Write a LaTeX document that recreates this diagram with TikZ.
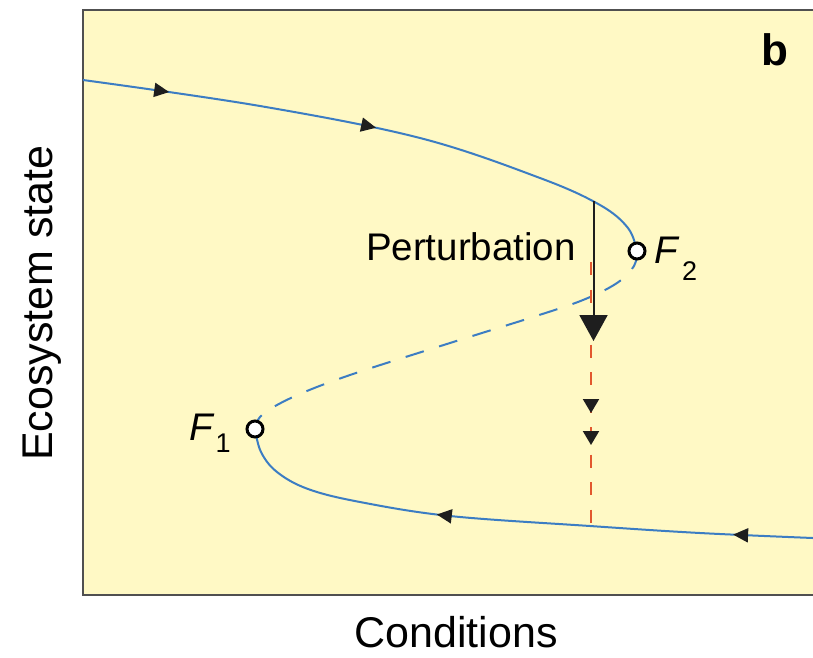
\documentclass[tikz,border=0pt]{standalone}
\usepackage{fontspec}
\setmainfont{Liberation Sans}
\usetikzlibrary{arrows.meta,decorations.markings}
\definecolor{bgyellow}{RGB}{255,249,197}
\definecolor{curveblue}{RGB}{60,125,195}
\definecolor{pertred}{RGB}{226,88,46}
\definecolor{framegray}{RGB}{80,80,80}
\definecolor{tipblack}{RGB}{30,30,30}
\begin{document}
\begin{tikzpicture}[x=1pt,y=-1pt,
  curve/.style={curveblue, line width=2pt},
  axislabel/.style={font=\fontsize{43}{50}\selectfont, inner sep=0pt},
  textlabel/.style={font=\fontsize{38.5}{46}\selectfont, inner sep=0pt},
  fixpoint/.style={circle, draw=black, line width=3pt, fill=white, inner sep=0pt, minimum size=16pt},
]
\useasboundingbox (0,0) rectangle (813,657);
% panel background and frame
\begin{scope}
  \clip (0,0) rectangle (813,657);
  \draw[framegray, line width=2pt, fill=bgyellow] (83,10) rectangle (840,595);
\end{scope}

\coordinate (pF2) at (637,251);
\coordinate (pF1) at (255,429);
\coordinate (pertstart) at (593.5,201);
\coordinate (pertend) at (593.5,341);
\coordinate (redtop) at (591,262);
\coordinate (redbot) at (591,526);

% upper stable branch
\draw[curve, postaction={decorate}, decoration={markings,
    mark=at position 87pt with {\arrow[tipblack]{Triangle[length=15pt,width=14pt]}},
    mark=at position 297pt with {\arrow[tipblack]{Triangle[length=15pt,width=14pt]}}}]
  plot[smooth, tension=0.6] coordinates {(83,80) (260,106) (420,138) (540,178) (600,205) (628,228) (pF2)};

% unstable branch (dashed)
\draw[curve, dash pattern=on 19pt off 16pt]
  plot[smooth, tension=0.6] coordinates {(pF2) (634,266) (617,283) (583,300) (533,317) (450,343) (350,375) (293,397) (262,415) (pF1)};

% lower stable branch
\draw[curve, postaction={decorate}, decoration={markings,
    mark=at position 80pt with {\arrow[tipblack]{Triangle[length=15pt,width=14pt]}},
    mark=at position 377pt with {\arrow[tipblack]{Triangle[length=15pt,width=14pt]}}}]
  plot[smooth, tension=0.6] coordinates {(813,538) (700,533) (590,526) (450,516) (360,502) (308,489) (277,472) (261,452) (pF1)};

% red dashed collapse path
\draw[pertred, line width=2pt, dash pattern=on 13pt off 14.5pt, postaction={decorate},
  decoration={markings,
    mark=at position 151pt with {\arrow[tipblack]{Triangle[length=14pt,width=16pt]}},
    mark=at position 183pt with {\arrow[tipblack]{Triangle[length=14pt,width=16pt]}}}]
  (redtop) -- (redbot);

% perturbation arrow
\draw[tipblack, line width=2pt, -{Triangle[length=26pt,width=28pt]}] (pertstart) -- (pertend);

% fixed points
\node[fixpoint] (F2) at (pF2) {};
\node[fixpoint] (F1) at (pF1) {};

% labels
\node[textlabel, anchor=base west] (F2lbl) at (654,263) {\textit{F}\kern2.5pt\raisebox{-17pt}{\fontsize{27}{27}\selectfont 2}};
\node[textlabel, anchor=base west] (F1lbl) at (189,440) {\textit{F}\kern1pt\raisebox{-12pt}{\fontsize{27}{27}\selectfont 1}};
\node[textlabel, anchor=base east] (pertlbl) at (576,260) {Perturbation};
\node[axislabel, anchor=base] (xlbl) at (456,647.5) {Conditions};
\node[axislabel, anchor=base, rotate=90] (ylbl) at (52,303) {Ecosystem state};
\node[font=\fontsize{44}{50}\selectfont\bfseries, inner sep=0pt, anchor=base west] (panel) at (761,65) {b};
\end{tikzpicture}
\end{document}
